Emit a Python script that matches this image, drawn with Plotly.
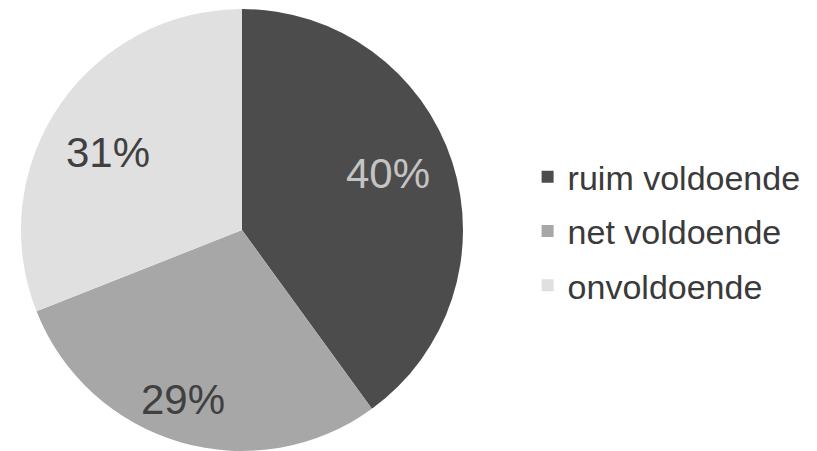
import math
import plotly.graph_objects as go

labels = ["ruim voldoende", "net voldoende", "onvoldoende"]
values = [40, 29, 31]
slice_colors = ["#4c4c4c", "#a7a7a7", "#e0e0e0"]
text_colors = ["#c4c4c4", "#404040", "#404040"]

W, H = 817, 451
FONT = "Liberation Sans, Arial, sans-serif"

# pie placement (figure pixel coords)
PIE_CX, PIE_CY, PIE_R = 234, 222, 221
dom_x = [(PIE_CX - PIE_R) / W, (PIE_CX + PIE_R) / W]
dom_y = [(H - PIE_CY - PIE_R) / H, (H - PIE_CY + PIE_R) / H]

fig = go.Figure()
fig.add_trace(go.Pie(
    labels=labels,
    values=values,
    sort=False,
    direction="clockwise",
    rotation=0,
    marker=dict(colors=slice_colors, line=dict(width=0)),
    textinfo="none",
    hoverinfo="label+percent",
    showlegend=False,
    domain=dict(x=dom_x, y=dom_y),
))

# legend entries (square markers), one group each for spacing
for lab, col in zip(labels, slice_colors):
    fig.add_trace(go.Scatter(
        x=[None], y=[None], mode="markers", name=lab,
        marker=dict(symbol="square", size=16, color=col),
        legendgroup=lab, showlegend=True, hoverinfo="skip",
    ))

# percentage labels placed near each slice bisector
label_r = [0.71, 0.81, 0.70]
label_shift_deg = [-3, 3, -4]
total = sum(values)
cum = 0
for v, tc, lr, sh in zip(values, text_colors, label_r, label_shift_deg):
    mid = math.radians((cum + v / 2) / total * 360 + sh)
    cum += v
    px = PIE_CX + math.sin(mid) * PIE_R * lr
    py = PIE_CY - math.cos(mid) * PIE_R * lr
    fig.add_annotation(
        x=px / W, y=1 - py / H, xref="paper", yref="paper",
        text=f"{round(v / total * 100)}%", showarrow=False,
        font=dict(family=FONT, size=42, color=tc),
        xanchor="center", yanchor="middle",
    )

fig.update_layout(
    width=W, height=H,
    margin=dict(l=0, r=0, t=0, b=0),
    paper_bgcolor="white",
    plot_bgcolor="white",
    xaxis=dict(visible=False),
    yaxis=dict(visible=False),
    showlegend=True,
    legend=dict(
        x=0.636, xanchor="left", y=0.505, yanchor="middle",
        font=dict(family=FONT, size=34, color="#3a3a3a"),
        bgcolor="rgba(0,0,0,0)",
        itemsizing="constant",
        traceorder="grouped",
        tracegroupgap=7,
        itemwidth=30,
    ),
    font=dict(family=FONT),
)

fig.write_html("out.html")
